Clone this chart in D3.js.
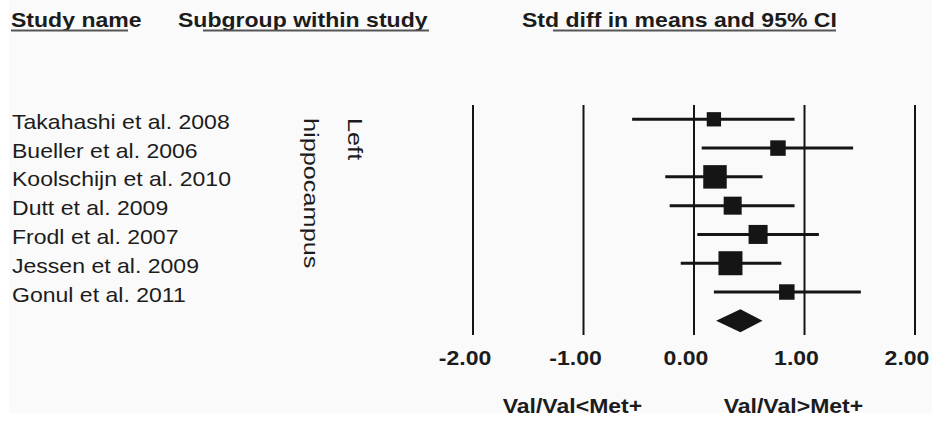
<!DOCTYPE html>
<html>
<head>
<meta charset="utf-8">
<script src="https://cdn.jsdelivr.net/npm/d3@7/dist/d3.min.js"></script>
<style>
  html, body { margin: 0; padding: 0; background: #ffffff; }
  svg { display: block; }
  text { font-family: "Liberation Sans", Arial, sans-serif; }
</style>
</head>
<body>
<svg id="chart" width="932" height="424"></svg>
<script>
// ---- data ----
const studies = [
  "Takahashi et al. 2008",
  "Bueller et al. 2006",
  "Koolschijn et al. 2010",
  "Dutt et al. 2009",
  "Frodl et al. 2007",
  "Jessen et al. 2009",
  "Gonul et al. 2011"
];
const estimates = [0.18, 0.76, 0.19, 0.35, 0.58, 0.33, 0.84];
const lowerCI   = [-0.56, 0.07, -0.26, -0.22, 0.03, -0.12, 0.18];
const upperCI   = [0.91, 1.44, 0.62, 0.91, 1.13, 0.79, 1.51];
const weights   = [8.2, 9.6, 22.1, 13.0, 14.5, 23.1, 9.6];
const summary   = { est: 0.42, lo: 0.20, hi: 0.62 };
const tickValues = [-2, -1, 0, 1, 2];
const tickLabels = ["-2.00", "-1.00", "0.00", "1.00", "2.00"];
const subgroupLines = ["Left", "hippocampus"];
const headers = ["Study name", "Subgroup within study", "Std diff in means and 95% CI"];
const favourLabels = ["Val/Val<Met+", "Val/Val>Met+"];

// ---- layout ----
const svg = d3.select("#chart");
const SX = 1.13;            // horizontal glyph stretch of the source image
const FS = 20.4;
const ink = "#151515";
const textCol = "#1c1c1c";

svg.append("rect").attr("x", 9).attr("y", 0).attr("width", 923).attr("height", 413)
  .attr("fill", "#fafafa");

const x = d3.scaleLinear().domain([-2, 2]).range([473, 915]);
const rows = studies.concat(["__summary"]);
const y = d3.scalePoint().domain(rows).range([119.3, 320.8]);
const size = d3.scaleSqrt().domain([0, d3.max(weights)]).range([0, 24]);

function txt(g, tx, ty, s, opts = {}) {
  return g.append("text")
    .attr("transform", `translate(${tx},${ty})` + (opts.rotate ? ` rotate(${opts.rotate})` : "") + ` scale(${opts.sx || SX},1)`)
    .attr("font-size", opts.size || FS)
    .attr("font-weight", opts.bold ? "bold" : "normal")
    .attr("fill", opts.fill || textCol)
    .attr("text-anchor", opts.anchor || "start")
    .text(s);
}

// headers
const hg = svg.append("g");
const headerPos = [
  { x: 11, ul: [11, 128] },
  { x: 178, ul: [203, 429] },
  { x: 522, ul: [553, 836] }
];
headers.forEach((h, i) => {
  txt(hg, headerPos[i].x, 26.7, h, { bold: true });
  hg.append("line")
    .attr("x1", headerPos[i].ul[0]).attr("x2", headerPos[i].ul[1])
    .attr("y1", 30.5).attr("y2", 30.5)
    .attr("stroke", "#555").attr("stroke-width", 2);
});

// study names
const ng = svg.append("g");
studies.forEach(s => txt(ng, 12, y(s) + 9.5, s));

// subgroup (rotated)
const sg = svg.append("g");
txt(sg, 347.5, 118, subgroupLines[0], { rotate: 90, sx: 1.24 });
txt(sg, 303.5, 118, subgroupLines[1], { rotate: 90, sx: 1.24 });

// grid lines
const gg = svg.append("g");
gg.selectAll("line").data(tickValues).join("line")
  .attr("x1", d => x(d)).attr("x2", d => x(d))
  .attr("y1", 105).attr("y2", 335)
  .attr("stroke", ink).attr("stroke-width", 2);

// tick labels
const tg = svg.append("g");
tickValues.forEach((v, i) => txt(tg, x(v) - 8, 365, tickLabels[i], { bold: true, anchor: "middle" }));

// CI lines and squares
const data = studies.map((s, i) => ({ s, est: estimates[i], lo: lowerCI[i], hi: upperCI[i], w: weights[i] }));
const mg = svg.append("g");
mg.selectAll("line.ci").data(data).join("line")
  .attr("class", "ci")
  .attr("x1", d => x(d.lo)).attr("x2", d => x(d.hi))
  .attr("y1", d => y(d.s)).attr("y2", d => y(d.s))
  .attr("stroke", ink).attr("stroke-width", 3);
mg.selectAll("rect.pt").data(data).join("rect")
  .attr("class", "pt")
  .attr("x", d => x(d.est) - size(d.w) / 2)
  .attr("y", d => y(d.s) - size(d.w) / 2)
  .attr("width", d => size(d.w)).attr("height", d => size(d.w))
  .attr("fill", ink);

// summary diamond
const yc = y("__summary");
const hh = 11.5;
mg.append("path")
  .attr("d", `M${x(summary.lo)},${yc} L${x(summary.est)},${yc - hh} L${x(summary.hi)},${yc} L${x(summary.est)},${yc + hh} Z`)
  .attr("fill", ink);

// favour labels
const fg = svg.append("g");
txt(fg, x(-1.1), 413, favourLabels[0], { bold: true, anchor: "middle" });
txt(fg, x(0.9), 413, favourLabels[1], { bold: true, anchor: "middle" });
</script>
</body>
</html>
